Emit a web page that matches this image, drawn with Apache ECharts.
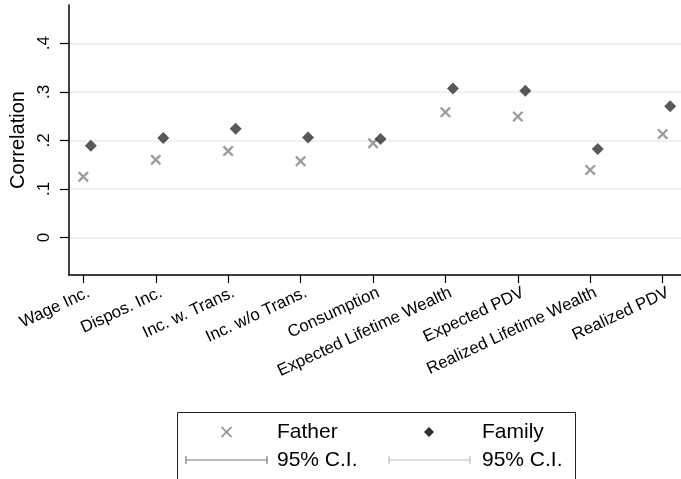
<!DOCTYPE html>
<html>
<head>
<meta charset="utf-8">
<script src="https://cdn.jsdelivr.net/npm/echarts@6/dist/echarts.min.js"></script>
<style>
  html, body { margin: 0; padding: 0; background: #fff; }
  #chart { width: 681px; height: 479px; }
</style>
</head>
<body>
<div id="chart"></div>
<script>
// Income / wealth measures compared on the x axis
const categories = [
  'Wage Inc.', 'Dispos. Inc.', 'Inc. w. Trans.', 'Inc. w/o Trans.', 'Consumption',
  'Expected Lifetime Wealth', 'Expected PDV', 'Realized Lifetime Wealth', 'Realized PDV'
];
// Correlation estimates
const fatherValues = [0.125, 0.160, 0.178, 0.157, 0.194, 0.258, 0.249, 0.139, 0.213];
const familyValues = [0.189, 0.205, 0.224, 0.206, 0.203, 0.307, 0.302, 0.182, 0.270];
// Y tick labels
const yTicks = [0, 0.1, 0.2, 0.3, 0.4];
const yTickLabels = ['0', '.1', '.2', '.3', '.4'];

const FONT = '"Liberation Sans", Arial, Helvetica, sans-serif';
const xPositions = categories.map((_, i) => i + 1);

const crossPath = 'path://M0,1.5 L1.5,0 L5,3.5 L8.5,0 L10,1.5 L6.5,5 L10,8.5 L8.5,10 L5,6.5 L1.5,10 L0,8.5 L3.5,5 Z';

const chart = echarts.init(document.getElementById('chart'), null, { renderer: 'canvas' });

chart.setOption({
  animation: false,
  backgroundColor: '#fff',
  textStyle: { fontFamily: FONT },
  grid: { left: 69, right: 0, top: 5, bottom: 204, containLabel: false },
  xAxis: {
    type: 'value',
    min: 0.802,
    max: 9.253,
    axisLine: { show: true, onZero: false, lineStyle: { color: '#000', width: 1.5 } },
    axisTick: { show: true, length: 8, lineStyle: { color: '#000', width: 1.2 }, customValues: xPositions },
    axisLabel: {
      customValues: xPositions,
      rotate: 25,
      margin: 10,
      align: 'right',
      verticalAlign: 'top',
      padding: [0, -2, 0, 0],
      fontSize: 16.8,
      color: '#000',
      fontFamily: FONT,
      formatter: v => categories[Math.round(v) - 1] || ''
    },
    splitLine: { show: false }
  },
  yAxis: {
    type: 'value',
    min: -0.0774,
    max: 0.4788,
    name: 'Correlation',
    nameLocation: 'middle',
    nameRotate: 90,
    nameGap: 40,
    nameTextStyle: { fontSize: 20, color: '#000', fontFamily: FONT },
    axisLine: { show: true, onZero: false, lineStyle: { color: '#000', width: 1.5 } },
    axisTick: { show: true, length: 9, lineStyle: { color: '#000', width: 1.2 }, customValues: yTicks },
    axisLabel: {
      customValues: yTicks,
      rotate: 90,
      margin: 16,
      fontSize: 17,
      color: '#000',
      fontFamily: FONT,
      formatter: v => yTickLabels[yTicks.findIndex(t => Math.abs(t - v) < 1e-6)] ?? ''
    },
    splitLine: { show: true, lineStyle: { color: '#e5eef0', width: 1.5 } }
  },
  series: [
    {
      name: 'Father',
      type: 'scatter',
      symbol: crossPath,
      symbolSize: 11,
      itemStyle: { color: '#858585' },
      data: fatherValues.map((v, i) => [xPositions[i], v]),
      z: 3
    },
    {
      name: 'Family',
      type: 'scatter',
      symbol: 'diamond',
      symbolSize: [12, 12],
      symbolOffset: [7.5, 0],
      itemStyle: { color: '#2e2e2e' },
      data: familyValues.map((v, i) => [xPositions[i], v]),
      z: 4
    }
  ],
  graphic: [
    {
      type: 'group',
      left: 177, top: 412,
      children: [
        { type: 'rect', shape: { x: 0.5, y: 0.5, width: 398, height: 90 },
          style: { fill: '#fff', stroke: '#222', lineWidth: 1 } },
        // Father symbol
        { type: 'line', shape: { x1: 44.5, y1: 15, x2: 54.5, y2: 25 }, style: { stroke: '#8a8a8a', lineWidth: 1.6 } },
        { type: 'line', shape: { x1: 54.5, y1: 15, x2: 44.5, y2: 25 }, style: { stroke: '#8a8a8a', lineWidth: 1.6 } },
        { type: 'text', x: 100, y: 20, style: { text: 'Father', fontSize: 21, fontFamily: FONT, fill: '#000', verticalAlign: 'middle' } },
        // Family symbol
        { type: 'polygon', shape: { points: [[252, 15], [257, 20], [252, 25], [247, 20]] }, style: { fill: '#2e2e2e' } },
        { type: 'text', x: 305, y: 20, style: { text: 'Family', fontSize: 21, fontFamily: FONT, fill: '#000', verticalAlign: 'middle' } },
        // Confidence interval keys
        { type: 'line', shape: { x1: 9, y1: 48, x2: 90, y2: 48 }, style: { stroke: '#7a7a7a', lineWidth: 1.2 } },
        { type: 'line', shape: { x1: 9, y1: 44, x2: 9, y2: 52 }, style: { stroke: '#7a7a7a', lineWidth: 1.2 } },
        { type: 'line', shape: { x1: 90, y1: 44, x2: 90, y2: 52 }, style: { stroke: '#7a7a7a', lineWidth: 1.2 } },
        { type: 'text', x: 100, y: 48, style: { text: '95% C.I.', fontSize: 21, fontFamily: FONT, fill: '#000', verticalAlign: 'middle' } },
        { type: 'line', shape: { x1: 212, y1: 48, x2: 293, y2: 48 }, style: { stroke: '#bdbdbd', lineWidth: 1.2 } },
        { type: 'line', shape: { x1: 212, y1: 44, x2: 212, y2: 52 }, style: { stroke: '#bdbdbd', lineWidth: 1.2 } },
        { type: 'line', shape: { x1: 293, y1: 44, x2: 293, y2: 52 }, style: { stroke: '#bdbdbd', lineWidth: 1.2 } },
        { type: 'text', x: 305, y: 48, style: { text: '95% C.I.', fontSize: 21, fontFamily: FONT, fill: '#000', verticalAlign: 'middle' } }
      ]
    }
  ]
});
</script>
</body>
</html>
